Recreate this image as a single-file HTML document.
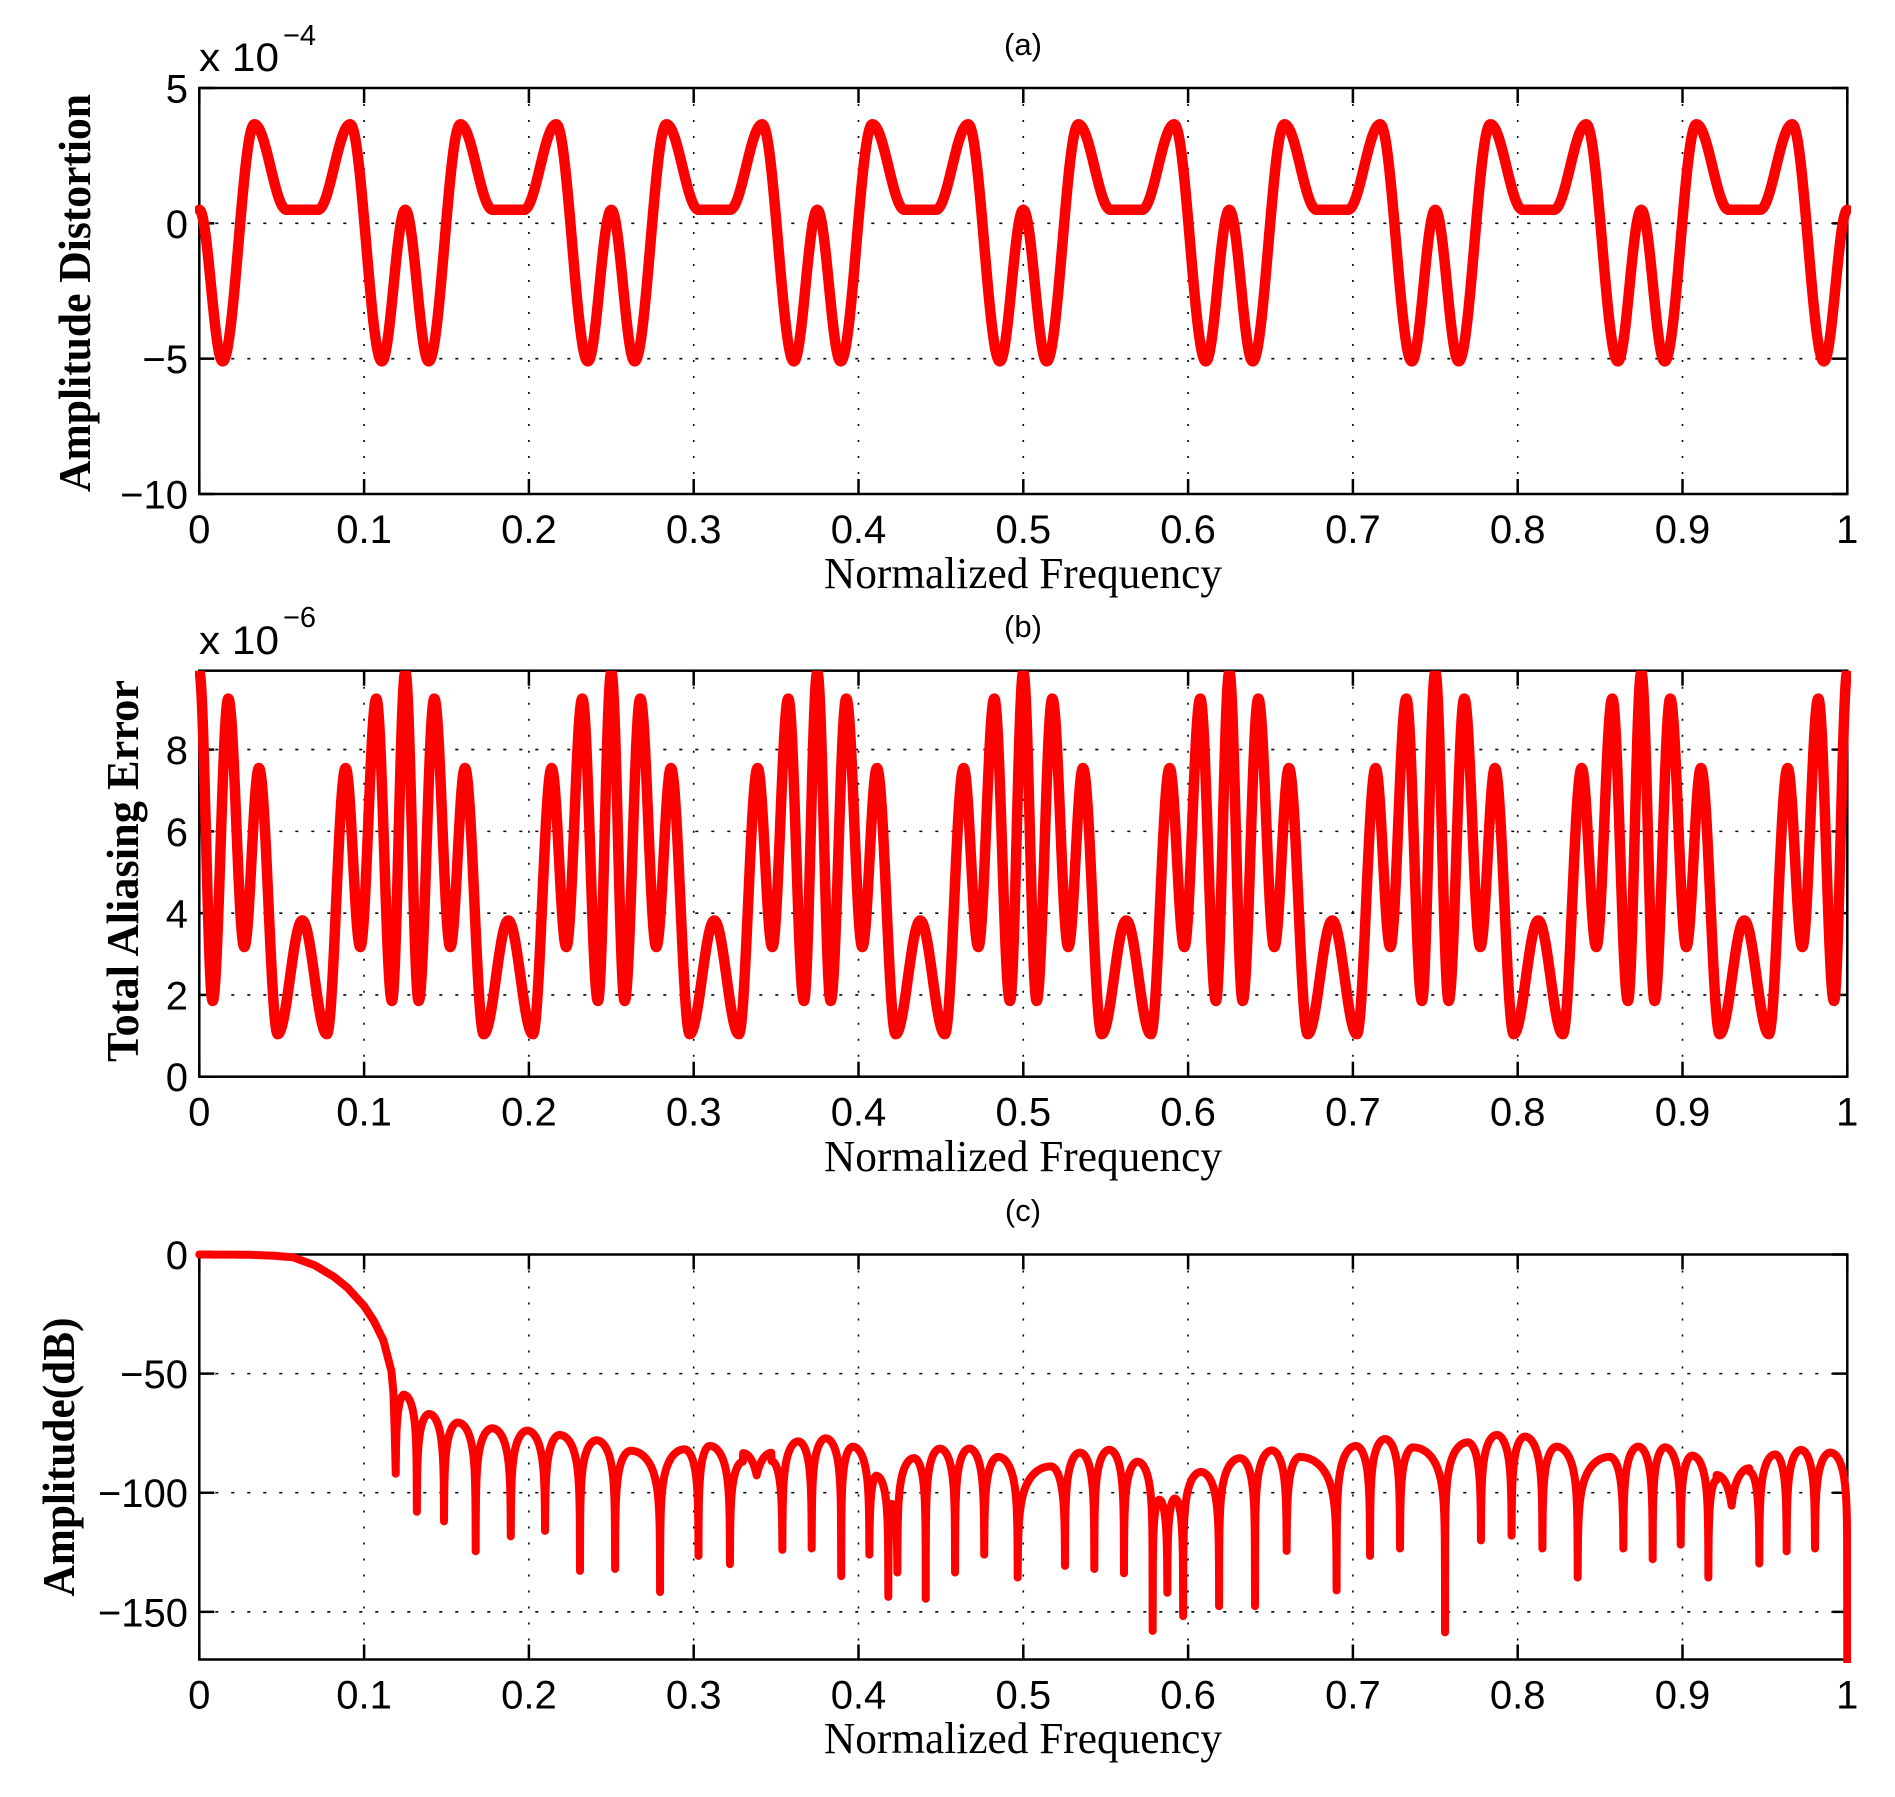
<!DOCTYPE html>
<html><head><meta charset="utf-8"><style>
html,body{margin:0;padding:0;background:#fff;}
svg{display:block;}
text{font-family:"Liberation Sans",Arial,sans-serif;fill:#000;}
.ser{font-family:"Liberation Serif","Times New Roman",serif;}
</style></head><body>
<svg id="s" width="1895" height="1797" viewBox="0 0 1895 1797" xmlns="http://www.w3.org/2000/svg">
<rect width="1895" height="1797" fill="#fff"/>
<defs>
<clipPath id="ca"><rect x="195" y="84" width="1656" height="414"/></clipPath>
<clipPath id="cb"><rect x="195" y="670.7" width="1656" height="410"/></clipPath>
<clipPath id="cc"><rect x="195" y="1250" width="1656" height="413"/></clipPath>
</defs>
<g id="grid"></g>
<g id="axes"></g>
<g id="curves"></g>

<!-- titles -->
<text x="1023" y="55" font-size="31" text-anchor="middle">(a)</text>
<text x="1023" y="637" font-size="31" text-anchor="middle">(b)</text>
<text x="1023" y="1221" font-size="31" text-anchor="middle">(c)</text>

<!-- multipliers -->
<text x="199" y="71" font-size="40" textLength="80" lengthAdjust="spacingAndGlyphs">x 10</text><text x="283" y="45" font-size="29">−4</text>
<text x="199" y="654" font-size="40" textLength="80" lengthAdjust="spacingAndGlyphs">x 10</text><text x="283" y="627" font-size="29">−6</text>

<!-- x labels -->
<text class="ser" x="1023" y="588" font-size="44" text-anchor="middle" textLength="398" lengthAdjust="spacingAndGlyphs">Normalized Frequency</text>
<text class="ser" x="1023" y="1171" font-size="44" text-anchor="middle" textLength="398" lengthAdjust="spacingAndGlyphs">Normalized Frequency</text>
<text class="ser" x="1023" y="1753" font-size="44" text-anchor="middle" textLength="398" lengthAdjust="spacingAndGlyphs">Normalized Frequency</text>

<!-- y labels -->
<text class="ser" font-weight="bold" font-size="45" text-anchor="middle" transform="translate(90,293) rotate(-90)" textLength="398" lengthAdjust="spacingAndGlyphs">Amplitude Distortion</text>
<text class="ser" font-weight="bold" font-size="45" text-anchor="middle" transform="translate(138,871) rotate(-90)" textLength="382" lengthAdjust="spacingAndGlyphs">Total Aliasing Error</text>
<text class="ser" font-weight="bold" font-size="45" text-anchor="middle" transform="translate(74,1457) rotate(-90)" textLength="279" lengthAdjust="spacingAndGlyphs">Amplitude(dB)</text>

<g id="ticklabels"></g>
</svg>
<script>
(function(){
var NS="http://www.w3.org/2000/svg";
var L=199.3,R=1847.3,W=R-L;
function X(f){return L+f*W;}
function el(parent,tag,attrs,txt){var e=document.createElementNS(NS,tag);for(var k in attrs)e.setAttribute(k,attrs[k]);if(txt!==undefined)e.textContent=txt;document.getElementById(parent).appendChild(e);return e;}
var P=[
 {top:88,bot:494,ymin:-10,ymax:5,ticks:[-10,-5,0,5],lab:["−10","−5","0","5"],clip:"ca",sw:10.5},
 {top:670.7,bot:1076.7,ymin:0,ymax:9.93,ticks:[0,2,4,6,8],lab:["0","2","4","6","8"],clip:"cb",sw:10.5},
 {top:1254.5,bot:1659.5,ymin:-170,ymax:0,ticks:[-150,-100,-50,0],lab:["−150","−100","−50","0"],clip:"cc",sw:8}
];
P.forEach(function(p){
 p.Y=function(v){return p.bot-(v-p.ymin)/(p.ymax-p.ymin)*(p.bot-p.top);};
 for(var i=1;i<=9;i++){var x=X(i/10);el("grid","line",{x1:x,x2:x,y1:p.top,y2:p.bot,stroke:"#000","stroke-width":1.6,"stroke-dasharray":"2 14"});}
 p.ticks.forEach(function(t,j){var y=p.Y(t);
   if(Math.abs(y-p.top)>2&&Math.abs(y-p.bot)>2) el("grid","line",{x1:L,x2:R,y1:y,y2:y,stroke:"#000","stroke-width":1.6,"stroke-dasharray":"3 13"});
   el("axes","line",{x1:L,x2:L+15,y1:y,y2:y,stroke:"#000","stroke-width":2.5});
   el("axes","line",{x1:R-15,x2:R,y1:y,y2:y,stroke:"#000","stroke-width":2.5});
   el("ticklabels","text",{x:188,y:y+14.5,"font-size":40,"text-anchor":"end"},p.lab[j]);
 });
 for(var i=0;i<=10;i++){var x=X(i/10);
   el("axes","line",{x1:x,x2:x,y1:p.bot,y2:p.bot-15,stroke:"#000","stroke-width":2.5});
   el("axes","line",{x1:x,x2:x,y1:p.top,y2:p.top+15,stroke:"#000","stroke-width":2.5});
   var lab=(i==0?"0":(i==10?"1":"0."+i));
   el("ticklabels","text",{x:x,y:p.bot+49,"font-size":40,"text-anchor":"middle"},lab);
 }
 el("axes","rect",{x:L,y:p.top,width:W,height:p.bot-p.top,fill:"none",stroke:"#000","stroke-width":2.5});
});
function cosInterp(list,f){
 for(var i=0;i<list.length-1;i++){var a=list[i],b=list[i+1];
  if(f>=a[0]&&f<=b[0]){var t=(f-a[0])/(b[0]-a[0]);return a[1]+(b[1]-a[1])*(1-Math.cos(Math.PI*t))/2;}}
 return list[list.length-1][1];
}
var A=[[0,0.5],[0.0142,-5.1],[0.0334,3.66],[0.053,0.5],[0.072,0.5],[0.0916,3.66],[0.1108,-5.1],[0.125,0.5]];
var B=[[0,9.9],[0.0081,1.85],[0.0176,9.25],[0.0273,3.17],[0.0362,7.55],[0.0476,1.04],[0.0625,3.82],[0.0774,1.04],[0.0888,7.55],[0.0977,3.17],[0.1074,9.25],[0.1169,1.85],[0.125,9.9]];
function periodic(list,f){var g=f%0.125; if(g<0)g+=0.125; if(f>=1-1e-9)g=0.125; return cosInterp(list,g);}
function path(p,fn,N,extra){
 var fs=[];for(var i=0;i<=N;i++)fs.push(i/N);
 if(extra)fs=fs.concat(extra);fs.sort(function(a,b){return a-b;});
 var d="";fs.forEach(function(f,i){d+=(i?"L":"M")+X(f).toFixed(2)+","+p.Y(fn(f)).toFixed(2);});
 el("curves","path",{d:d,fill:"none",stroke:"#ff0000","stroke-width":p.sw,"stroke-linejoin":"round","stroke-linecap":"round","clip-path":"url(#"+p.clip+")"});
}
path(P[0],function(f){return periodic(A,f);},3000);
path(P[1],function(f){return periodic(B,f);},4000);
var PB=[[0,0],[0.03,-0.1],[0.045,-0.5],[0.057,-1.2],[0.07,-4.5],[0.082,-9.5],[0.09,-14],[0.1,-21.6],[0.106,-28],[0.1117,-36],[0.1166,-49],[0.1178,-58],[0.1186,-75],[0.1192,-92]];
var S=[0.1192,-92,0.1243,-59,0.132,-108,0.1395,-67,0.1485,-112,0.157,-70.6,0.1677,-124.6,0.1777,-73,0.189,-118.3,0.199,-74,0.2098,-116,0.2188,-75.8,0.231,-132.8,0.241,-78,0.2523,-132,0.2619,-82.4,0.2796,-141.7,0.2943,-81.8,0.3029,-126.5,0.3098,-80.4,0.322,-130,0.33,-87,0.3382,-92.7,0.3472,-86.8,0.3538,-124,0.3634,-78.5,0.3716,-123.4,0.3802,-77.2,0.3895,-135,0.3965,-80.7,0.4066,-126,0.411,-93,0.4181,-143.7,0.42,-105,0.4236,-133.5,0.4337,-85.5,0.4408,-144.5,0.4494,-81.5,0.4586,-133.5,0.4672,-81.5,0.4763,-126,0.4848,-85,0.4966,-135.6,0.5166,-89,0.5253,-130.7,0.5344,-83.2,0.5431,-132,0.5522,-82,0.5611,-133.8,0.5694,-87,0.5785,-158,0.5825,-103,0.5874,-142,0.592,-102.5,0.597,-151.8,0.6078,-91.3,0.6188,-147.6,0.6315,-85.5,0.6406,-147.6,0.6507,-82.3,0.6598,-124.4,0.6679,-85,0.6901,-141,0.7018,-80.4,0.7104,-126.5,0.7195,-77.5,0.7286,-123.4,0.7367,-81,0.7559,-158.6,0.7696,-78.9,0.7777,-120,0.7873,-75.8,0.7963,-118,0.8044,-76.5,0.815,-123.4,0.8237,-80.7,0.8364,-135.6,0.8556,-85,0.8641,-123.4,0.8732,-80.7,0.8819,-127.9,0.8894,-81,0.8989,-121.8,0.906,-84.5,0.9157,-135.6,0.9207,-94.8,0.9298,-105.4,0.9406,-91.3,0.9466,-129.7,0.9561,-84,0.9632,-124.6,0.9719,-82.1,0.9804,-123.4,0.9899,-83.2,1.0,-180];
function linInterp(list,f){for(var i=0;i<list.length-1;i++){var a=list[i],b=list[i+1];if(f>=a[0]&&f<=b[0]){return a[1]+(b[1]-a[1])*(f-a[0])/(b[0]-a[0]);}}return list[list.length-1][1];}
function C(f){
 if(f<=0.1192)return linInterp(PB,f);
 for(var i=0;i+4<S.length;i+=4){
  var n1=S[i],d1=S[i+1],pk=S[i+2],h=S[i+3],n2=S[i+4],d2=S[i+5];
  if(f>=n1&&f<=n2){
   var t=f<=pk?0.5*(f-n1)/(pk-n1):0.5+0.5*(f-pk)/(n2-pk);
   var eps=Math.pow(10,((t<0.5?d1:d2)-h)/20);
   return h+20*Math.log10(Math.sin(Math.PI*t)+eps);
  }
 }
 return -180;
}
var ex=[];for(var i=0;i<S.length;i+=2)ex.push(S[i]);
path(P[2],C,8000,ex);
})();
</script>
</body></html>
